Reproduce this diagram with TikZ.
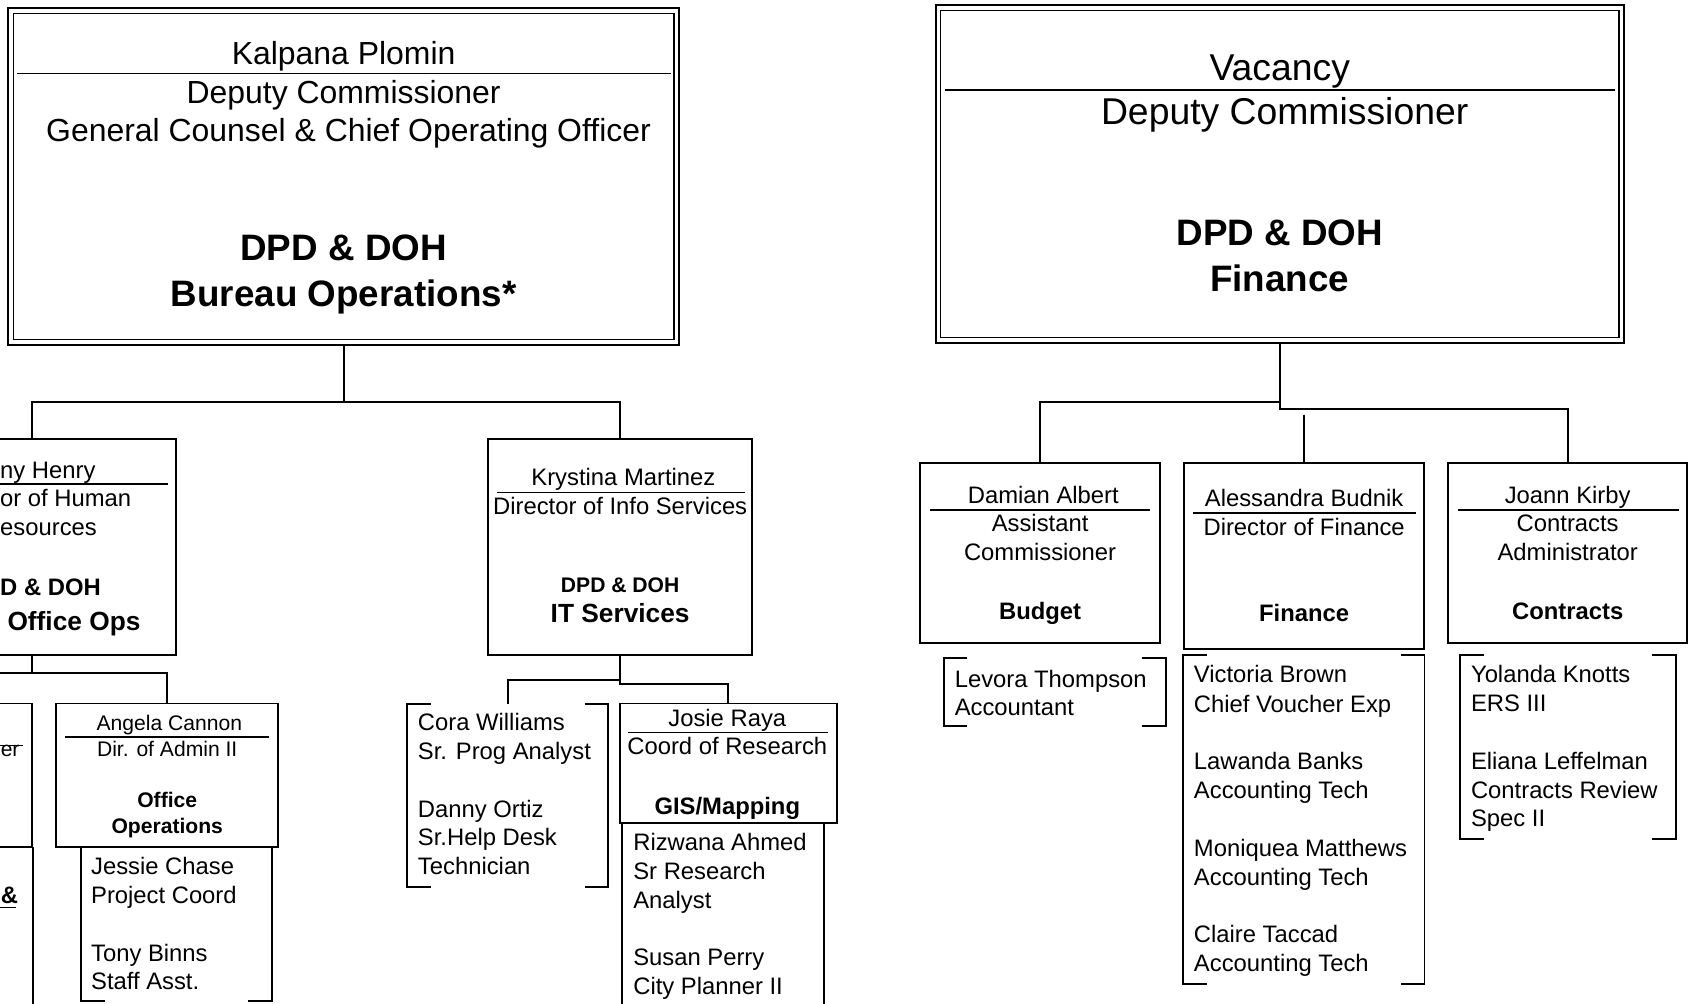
\documentclass[tikz,border=0pt]{standalone}
\usepackage{fontspec}
\setmainfont{Liberation Sans}
\newcommand\brkt[1]{%
  \draw[brk] ([xshift=22pt]#1.north west) -- (#1.north west) -- (#1.south west) -- ([xshift=22pt]#1.south west);
  \draw[brk] ([xshift=-22pt]#1.north east) -- (#1.north east) -- (#1.south east) -- ([xshift=-22pt]#1.south east);}
\begin{document}
\begin{tikzpicture}[x=1pt,y=-1pt,
  box/.style={draw, line width=1.8pt, inner sep=0pt, rectangle},
  ibox/.style={draw, line width=1.2pt, inner sep=0pt, rectangle},
  area/.style={inner sep=0pt, rectangle},
  brk/.style={line width=1.8pt},
  conn/.style={line width=1.8pt},
  rl/.style={line width=1.4pt},
  fA/.style={inner sep=0pt, font=\fontsize{22}{26}\selectfont},
  fAb/.style={inner sep=0pt, font=\fontsize{22}{26}\selectfont\bfseries},
  fS/.style={inner sep=0pt, font=\fontsize{19.5}{23}\selectfont},
  fSb/.style={inner sep=0pt, font=\fontsize{19.5}{23}\selectfont\bfseries},
  fMb/.style={inner sep=0pt, font=\fontsize{24.3}{28}\selectfont\bfseries},
  fT/.style={inner sep=0pt, font=\fontsize{29.5}{34}\selectfont},
  fTb/.style={inner sep=0pt, font=\fontsize{34}{40}\selectfont\bfseries},
  fR/.style={inner sep=0pt, font=\fontsize{34.5}{40}\selectfont},
]
\useasboundingbox (0,0) rectangle (1568,927);
\clip (0,0) rectangle (1568,927);
\fill[white] (0,0) rectangle (1568,927);

% ---------- top boxes ----------
\node[box, minimum width=620pt, minimum height=311pt] (LT) at (317.5,163) {};
\node[ibox, minimum width=610.6pt, minimum height=301.6pt] (LTi) at (317.5,163) {};
\draw[rl] (16,68) -- (620,68);
\node[fT, anchor=base] (lt1) at (317.5,59.5) {Kalpana Plomin};
\node[fT, anchor=base] (lt2) at (317.5,95.5) {Deputy Commissioner};
\node[fT, anchor=base] (lt3) at (322,130.5) {General Counsel \& Chief Operating Officer};
\node[fTb, anchor=base] (lt4) at (317.5,241) {DPD \& DOH};
\node[fTb, anchor=base] (lt5) at (317.5,283) {Bureau Operations*};

\node[box, minimum width=636pt, minimum height=311.6pt] (RT) at (1182.5,160.8) {};
\node[ibox, minimum width=626.6pt, minimum height=302.2pt] (RTi) at (1182.5,160.8) {};
\draw[rl] (873,83) -- (1492,83);
\node[fR, anchor=base] (rt1) at (1182.5,74) {Vacancy};
\node[fR, anchor=base] (rt2) at (1187,115) {Deputy Commissioner};
\node[fTb, anchor=base] (rt3) at (1182.5,227) {DPD \& DOH};
\node[fTb, anchor=base] (rt4) at (1182.5,269) {Finance};

% ---------- second level, left ----------
\node[box, minimum width=267pt, minimum height=199pt] (TH) at (29.5,505.5) {};
\draw[rl] (0,447) -- (155,447);
\node[fA, anchor=base west] (th1) at (0,442) {ny Henry};
\node[fA, anchor=base west] (th2) at (0,468) {or of Human};
\node[fA, anchor=base west] (th3) at (0,495) {esources};
\node[fAb, anchor=base west] (th4) at (0,550) {D \& DOH};
\node[fMb, anchor=base west] (th5) at (0,583) {\ Office Ops};

\node[box, minimum width=244pt, minimum height=199pt] (KM) at (573,505.5) {};
\draw[rl] (459,455) -- (688,455);
\node[fA, anchor=base] (km1) at (576,449) {Krystina Martinez};
\node[fA, anchor=base] (km2) at (573,475) {Director of Info Services};
\node[fSb, anchor=base] (km3) at (573,547) {DPD \& DOH};
\node[fMb, anchor=base] (km4) at (573,575) {IT Services};

% ---------- third level, left ----------
\node[box, minimum width=205pt, minimum height=133pt] (LB) at (-72.5,716.5) {};
\draw[rl] (0,689) -- (21,689);
\node[fS, anchor=base west] (lb1) at (0.5,699) {er};
\node[area, minimum width=180pt, minimum height=207pt] (LBs) at (-60,886.5) {};
\draw[brk] (LBs.north east) -- (LBs.south east);
\node[fAb, anchor=base west] (lb2) at (0.5,835) {\&};
\draw[line width=1.5pt] (0,838.5) -- (15,838.5);

\node[box, minimum width=205pt, minimum height=133pt] (AC) at (154.5,716.5) {};
\draw[rl] (60,681) -- (249,681);
\node[fS, anchor=base] (ac1) at (156.5,675) {Angela Cannon};
\node[fS, anchor=base] (ac2) at (154.5,699) {Dir. of Admin II};
\node[fSb, anchor=base] (ac3) at (154.5,746) {Office};
\node[fSb, anchor=base] (ac4) at (154.5,770) {Operations};
\node[area, minimum width=176pt, minimum height=142pt] (ACs) at (163,854) {};
\brkt{ACs}
\node[fA, anchor=base west] (ac5) at (84,808) {Jessie Chase};
\node[fA, anchor=base west] (ac6) at (84,835) {Project Coord};
\node[fA, anchor=base west] (ac7) at (84,888) {Tony Binns};
\node[fA, anchor=base west] (ac8) at (84,914) {Staff Asst.};

\node[area, minimum width=186pt, minimum height=168pt] (CWs) at (469,735) {};
\brkt{CWs}
\node[fA, anchor=base west] (cw1) at (386,675) {Cora Williams};
\node[fA, anchor=base west] (cw2) at (386,702) {Sr. Prog Analyst};
\node[fA, anchor=base west] (cw3) at (386,755) {Danny Ortiz};
\node[fA, anchor=base west] (cw4) at (386,781) {Sr.Help Desk};
\node[fA, anchor=base west] (cw5) at (386,808) {Technician};

\node[box, minimum width=200pt, minimum height=110pt] (JR) at (673,705) {};
\draw[rl] (580,677) -- (765,677);
\node[fA, anchor=base] (jr1) at (672,671) {Josie Raya};
\node[fA, anchor=base] (jr2) at (672,697) {Coord of Research};
\node[fAb, anchor=base] (jr3) at (672,753) {GIS/Mapping};
\node[area, minimum width=186pt, minimum height=220pt] (JRs) at (668,870) {};
\draw[brk] (JRs.north west) -- (JRs.south west);
\draw[brk] (JRs.north east) -- (JRs.south east);
\node[fA, anchor=base west] (jr4) at (585,786) {Rizwana Ahmed};
\node[fA, anchor=base west] (jr5) at (585,813) {Sr Research};
\node[fA, anchor=base west] (jr6) at (585,839) {Analyst};
\node[fA, anchor=base west] (jr7) at (585,892) {Susan Perry};
\node[fA, anchor=base west] (jr8) at (585,919) {City Planner II};

% ---------- second level, right ----------
\node[box, minimum width=222pt, minimum height=166pt] (DA) at (961,511) {};
\draw[rl] (859,471) -- (1063,471);
\node[fA, anchor=base] (da1) at (964,465) {Damian Albert};
\node[fA, anchor=base] (da2) at (961,491) {Assistant};
\node[fA, anchor=base] (da3) at (961,518) {Commissioner};
\node[fAb, anchor=base] (da4) at (961,572) {Budget};
\node[area, minimum width=205pt, minimum height=63pt] (LVs) at (974.5,639.5) {};
\brkt{LVs}
\node[fA, anchor=base west] (lv1) at (882,635) {Levora Thompson};
\node[fA, anchor=base west] (lv2) at (882,661) {Accountant};

\node[box, minimum width=222pt, minimum height=172pt] (AB) at (1205,514) {};
\draw[rl] (1102,474) -- (1308,474);
\node[fA, anchor=base] (ab1) at (1205,468) {Alessandra Budnik};
\node[fA, anchor=base] (ab2) at (1205,495) {Director of Finance};
\node[fAb, anchor=base] (ab3) at (1205,574) {Finance};
\node[area, minimum width=223pt, minimum height=304pt] (ABs) at (1204.5,757) {};
\brkt{ABs}
\node[fA, anchor=base west] (ab4) at (1103,631) {Victoria Brown};
\node[fA, anchor=base west] (ab5) at (1103,658) {Chief Voucher Exp};
\node[fA, anchor=base west] (ab6) at (1103,711) {Lawanda Banks};
\node[fA, anchor=base west] (ab7) at (1103,738) {Accounting Tech};
\node[fA, anchor=base west] (ab8) at (1103,791) {Moniquea Matthews};
\node[fA, anchor=base west] (ab9) at (1103,818) {Accounting Tech};
\node[fA, anchor=base west] (ab10) at (1103,871) {Claire Taccad};
\node[fA, anchor=base west] (ab11) at (1103,898) {Accounting Tech};

\node[box, minimum width=221pt, minimum height=166pt] (JK) at (1448.5,511) {};
\draw[rl] (1347,471) -- (1551,471);
\node[fA, anchor=base] (jk1) at (1448.5,465) {Joann Kirby};
\node[fA, anchor=base] (jk2) at (1448.5,491) {Contracts};
\node[fA, anchor=base] (jk3) at (1448.5,518) {Administrator};
\node[fAb, anchor=base] (jk4) at (1448.5,572) {Contracts};
\node[area, minimum width=199pt, minimum height=170pt] (JKs) at (1448.5,690) {};
\brkt{JKs}
\node[fA, anchor=base west] (jk5) at (1359,631) {Yolanda Knotts};
\node[fA, anchor=base west] (jk6) at (1359,657) {ERS III};
\node[fA, anchor=base west] (jk7) at (1359,711) {Eliana Leffelman};
\node[fA, anchor=base west] (jk8) at (1359,738) {Contracts Review};
\node[fA, anchor=base west] (jk9) at (1359,764) {Spec II};

% ---------- connectors ----------
\coordinate (jL) at (317.5,371);
\draw[conn] (LT.south) -- (jL);
\draw[conn] (TH.north) |- (jL) -| (KM.north);

\coordinate (jH) at (29.5,622);
\draw[conn] (TH.south) -- (jH);
\draw[conn] (LB.north) |- (jH) -| (AC.north);

\coordinate (jK1) at (573,628);
\coordinate (jK2) at (573,632);
\draw[conn] (KM.south) -- (jK2) -| (JR.north);
\draw[conn] (jK1) -| (CWs.north);

\coordinate (jR1) at (1182.5,371);
\coordinate (jR2) at (1182.5,378);
\coordinate (jR3) at (1205,383);
\draw[conn] (RT.south) -- (jR2) -| (JK.north);
\draw[conn] (jR1) -| (DA.north);
\draw[conn] (jR3) -- (AB.north);
\end{tikzpicture}
\end{document}
